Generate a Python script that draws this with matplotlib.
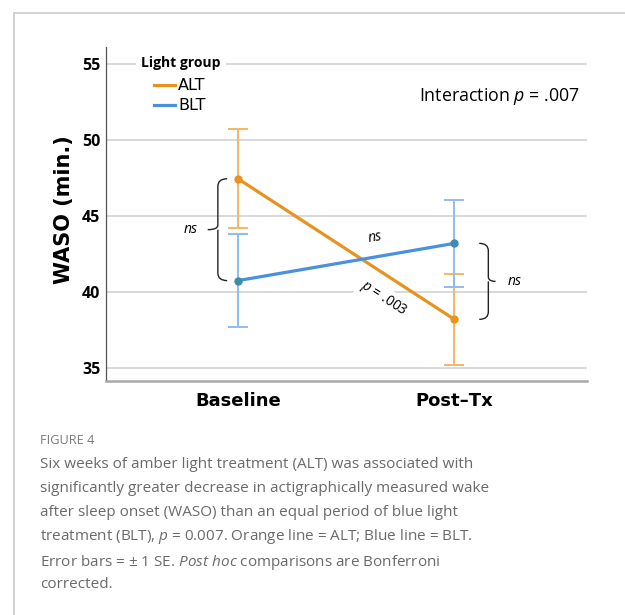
import matplotlib
matplotlib.use("Agg")
import matplotlib.pyplot as plt
from matplotlib.lines import Line2D
from matplotlib.path import Path
from matplotlib.patches import PathPatch
import numpy as np

# ---------------- data ----------------
timepoints = ["Baseline", "Post\u2013Tx"]
groups = ["ALT", "BLT"]
alt_mean = [47.45, 38.2]
alt_se = [3.25, 3.0]
blt_mean = [40.75, 43.2]
blt_se = [3.08, 2.87]
y_ticks = [35, 40, 45, 50, 55]
interaction_label = "Interaction $p$ = .007"
baseline_comp = "ns"
post_comp = "ns"
blt_change = "ns"
alt_change = "$p$ = .003"

caption_title = "FIGURE 4"
caption_lines = [
    "Six weeks of amber light treatment (ALT) was associated with",
    "significantly greater decrease in actigraphically measured wake",
    "after sleep onset (WASO) than an equal period of blue light",
    "treatment (BLT), $p$ = 0.007. Orange line = ALT; Blue line = BLT.",
    "Error bars = \u00b1 1 SE. $Post\\ hoc$ comparisons are Bonferroni",
    "corrected.",
]

# ---------------- style ----------------
plt.rcParams["font.family"] = ["Open Sans", "DejaVu Sans"]
plt.rcParams["mathtext.fontset"] = "custom"
plt.rcParams["mathtext.rm"] = "Open Sans"
plt.rcParams["mathtext.it"] = "Open Sans:italic"
plt.rcParams["mathtext.bf"] = "Open Sans:bold"

ORANGE = "#E8931F"
ORANGE_LIGHT = "#F5B767"
BLUE = "#4A90E2"
BLUE_LIGHT = "#8EBCF0"
BLUE_DOT = "#3E8DA8"
GRID = "#d6d6d6"
DJ = ["DejaVu Sans"]

fig = plt.figure(figsize=(6.25, 6.15), dpi=100)
W, H = 625, 615
ax_left, ax_right, ax_top, ax_bottom = 106, 587, 47, 381
ax = fig.add_axes([ax_left / W, 1 - ax_bottom / H,
                   (ax_right - ax_left) / W, (ax_bottom - ax_top) / H])

x = np.arange(len(timepoints))

ax.set_xlim(-0.61, 1.613)
ax.set_ylim(34.145, 56.118)

for yt in y_ticks:
    ax.axhline(yt, color=GRID, lw=1.3, zorder=0)

# error bars
ax.errorbar(x, alt_mean, yerr=alt_se, fmt="none", ecolor=ORANGE_LIGHT,
            elinewidth=1.4, capsize=7, capthick=1.4, zorder=2)
ax.errorbar(x, blt_mean, yerr=blt_se, fmt="none", ecolor=BLUE_LIGHT,
            elinewidth=1.4, capsize=7, capthick=1.4, zorder=2)

l_alt, = ax.plot(x, alt_mean, color=ORANGE, lw=2.3, zorder=3, label=groups[0])
l_blt, = ax.plot(x, blt_mean, color=BLUE, lw=2.3, zorder=3, label=groups[1])
ax.plot(x, alt_mean, ls="none", marker="o", ms=5, color=ORANGE, zorder=4)
ax.plot(x, blt_mean, ls="none", marker="o", ms=5, color=BLUE_DOT, zorder=4)

# spines
for s in ["top", "right"]:
    ax.spines[s].set_visible(False)
ax.spines["left"].set_color("#555555")
ax.spines["left"].set_linewidth(0.9)
ax.spines["bottom"].set_color("#a8a8a8")
ax.spines["bottom"].set_linewidth(1.8)

ax.set_yticks(y_ticks)
ax.set_yticklabels([str(v) for v in y_ticks], fontsize=11.5, fontweight="bold")
ax.set_xticks(x)
ax.set_xticklabels(timepoints, fontsize=13, fontweight="bold", family=DJ)
ax.tick_params(axis="both", length=0)
ax.tick_params(axis="y", pad=4)
ax.tick_params(axis="x", pad=8)

ax.set_ylabel("WASO (min.)", fontsize=15, fontweight="bold", family=DJ)
ax.yaxis.set_label_coords(-0.066, 0.512)

# legend
ax.text(0.073, 0.952, "Light group", transform=ax.transAxes, fontsize=10,
        fontweight="bold", ha="left", va="center", zorder=5,
        bbox=dict(facecolor="white", edgecolor="none", pad=4))
leg = ax.legend(handles=[l_alt, l_blt], loc="upper left",
                bbox_to_anchor=(0.0998, 0.906), frameon=False,
                prop={"family": "DejaVu Sans", "size": 11.5},
                handlelength=1.3, handletextpad=0.2, labelspacing=0.3,
                borderpad=0, borderaxespad=0)

ax.text(0.9855, 0.853, interaction_label, transform=ax.transAxes, fontsize=12.8,
        ha="right", va="center")


# brackets
def brace(ax, xline, xend, xtip, y0, y1, r=0.5):
    ym = (y0 + y1) / 2
    sg = np.sign(y1 - y0)
    verts = [
        (xend, y0), (xline, y0), (xline, y0 + sg * r),
        (xline, ym - sg * 0.3), (xline, ym), (xtip, ym),
        (xline, ym), (xline, ym + sg * 0.3),
        (xline, y1 - sg * r), (xline, y1), (xend, y1),
    ]
    codes = [Path.MOVETO, Path.CURVE3, Path.CURVE3,
             Path.LINETO, Path.CURVE3, Path.CURVE3,
             Path.MOVETO, Path.LINETO,
             Path.LINETO, Path.CURVE3, Path.CURVE3]
    ax.add_patch(PathPatch(Path(verts, codes), facecolor="none",
                           edgecolor="#222222", lw=1.0, zorder=5))


brace(ax, -0.093, -0.050, -0.140, alt_mean[0], blt_mean[0])
brace(ax, 1 + 0.157, 1 + 0.115, 1 + 0.19, blt_mean[1], alt_mean[1])

ax.text(-0.22, (alt_mean[0] + blt_mean[0]) / 2, baseline_comp, fontsize=10,
        style="italic", ha="center", va="center")
ax.text(1.28, (alt_mean[1] + blt_mean[1]) / 2, post_comp, fontsize=10,
        style="italic", ha="center", va="center")
ax.text(0.634, 43.6, blt_change, fontsize=10, style="italic", ha="center",
        va="center", rotation=9)
ax.text(0.672, 39.55, alt_change, fontsize=10, ha="center", va="center",
        rotation=-33, rotation_mode="anchor", zorder=1,
        bbox=dict(facecolor="white", edgecolor="none", pad=2))

# frame
fig.add_artist(Line2D([14 / W, 14 / W], [0, 1 - 13 / H], color="#cfcfcf",
                      lw=1.3, transform=fig.transFigure))
fig.add_artist(Line2D([14 / W, 1], [1 - 13 / H, 1 - 13 / H], color="#cfcfcf",
                      lw=1.3, transform=fig.transFigure))

# caption
fig.text(40 / W, 1 - 441 / H, caption_title, fontsize=9.2, color="#7a7a7a",
         ha="left", va="center")
ys = [465, 489, 513, 537, 562, 585]
for line, yy in zip(caption_lines, ys):
    fig.text(40 / W, 1 - yy / H, line, fontsize=11.0, color="#6a6a6a",
             ha="left", va="center")

fig.savefig("out.png", dpi=100)
